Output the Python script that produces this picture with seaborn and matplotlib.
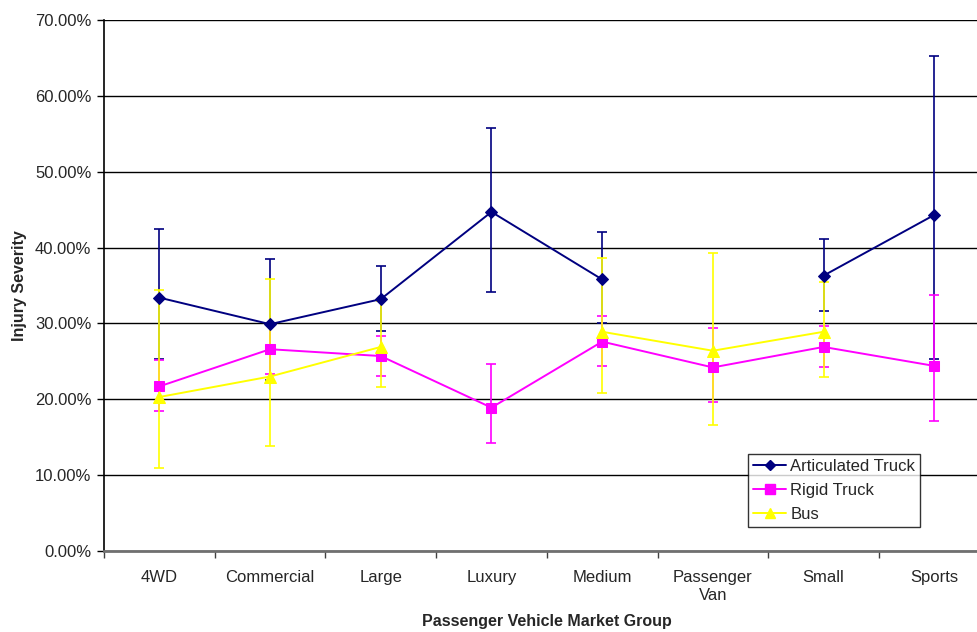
import numpy as np
import pandas as pd
import matplotlib
matplotlib.use("Agg")
import matplotlib.pyplot as plt
from matplotlib.lines import Line2D
from matplotlib.ticker import FuncFormatter, FixedLocator
import seaborn as sns

nan = np.nan

categories = ["4WD", "Commercial", "Large", "Luxury", "Medium",
              "Passenger\nVan", "Small", "Sports"]

# Injury severity (%) with lower / upper limits of each interval
artic = [33.4, 29.9, 33.2, 44.7, 35.8, nan, 36.3, 44.3]
artic_lo = [25.35, 22.5, 29.0, 34.2, 30.1, nan, 31.7, 25.3]
artic_hi = [42.4, 38.5, 37.6, 55.7, 42.0, nan, 41.1, 65.2]

rigid = [21.7, 26.6, 25.7, 18.9, 27.6, 24.2, 26.9, 24.4]
rigid_lo = [18.5, 23.3, 23.1, 14.3, 24.4, 19.6, 24.3, 17.1]
rigid_hi = [25.2, 29.9, 28.4, 24.6, 31.0, 29.4, 29.7, 33.7]

bus = [20.3, 23.0, 26.9, nan, 28.9, 26.4, 28.9, nan]
bus_lo = [11.0, 13.8, 21.6, nan, 20.8, 16.6, 23.0, nan]
bus_hi = [34.4, 35.9, 32.9, nan, 38.6, 39.3, 35.4, nan]

series_names = ["Articulated Truck", "Rigid Truck", "Bus"]
colors = {"Articulated Truck": "#000080", "Rigid Truck": "#FF00FF", "Bus": "#FFFF00"}
markers = {"Articulated Truck": "D", "Rigid Truck": "s", "Bus": "^"}
msizes = {"Articulated Truck": 6, "Rigid Truck": 7.5, "Bus": 8}

sns.set_theme(style="white")
plt.rcParams["font.family"] = ["Liberation Sans", "DejaVu Sans"]

# long-form table; consecutive non-missing points share a segment id so gaps stay open
rows = []
for name, vals, lo, hi in [("Articulated Truck", artic, artic_lo, artic_hi),
                           ("Rigid Truck", rigid, rigid_lo, rigid_hi),
                           ("Bus", bus, bus_lo, bus_hi)]:
    seg = 0
    prev_ok = False
    for i, v in enumerate(vals):
        ok = not np.isnan(v)
        if ok and not prev_ok:
            seg += 1
        if ok:
            rows.append(dict(series=name, x=i, y=v, lo=lo[i], hi=hi[i],
                             seg=f"{name}-{seg}"))
        prev_ok = ok
df = pd.DataFrame(rows)

fig = plt.figure(figsize=(9.78, 6.32), dpi=100)
ax = fig.add_axes([104 / 978, 81 / 632, 885.6 / 978, 531 / 632])

# error bars underneath the lines
for name in series_names:
    d = df[df.series == name]
    ax.errorbar(d.x, d.y, yerr=[d.y - d.lo, d.hi - d.y], fmt="none",
                ecolor=colors[name], elinewidth=1.2, capsize=3.5,
                capthick=1.2, zorder=2)

for name in series_names:
    d = df[df.series == name]
    sns.lineplot(data=d, x="x", y="y", units="seg", estimator=None,
                 color=colors[name], marker=markers[name],
                 markersize=msizes[name], markeredgecolor=colors[name],
                 linewidth=1.4, ax=ax, legend=False, zorder=3)

ax.set_xlim(-0.5, 7.5)
ax.set_ylim(0, 70)
ax.set_yticks(np.arange(0, 71, 10))
ax.yaxis.set_major_formatter(FuncFormatter(lambda v, p: f"{v:.2f}%"))
ax.grid(axis="y", color="black", linewidth=1.0)
ax.grid(axis="x", visible=False)
ax.set_axisbelow(True)

ax.set_xticks(range(len(categories)))
ax.set_xticklabels(categories, fontsize=12)
ax.xaxis.set_minor_locator(FixedLocator(np.arange(-0.5, 8, 1.0)))
ax.tick_params(axis="x", which="major", length=0, pad=14)
ax.tick_params(axis="x", which="minor", length=5, width=1, color="#404040",
               direction="out", bottom=True)
ax.tick_params(axis="y", length=5, width=1, color="black", direction="out",
               left=True, labelsize=12, pad=4)

for s in ["top", "right"]:
    ax.spines[s].set_visible(False)
ax.spines["left"].set_color("black")
ax.spines["left"].set_linewidth(1.2)
ax.spines["bottom"].set_color("#707070")
ax.spines["bottom"].set_linewidth(2)

ax.set_xlabel("Passenger Vehicle Market Group", fontsize=11.5,
              fontweight="bold", labelpad=8)
ax.set_ylabel("Injury Severity", fontsize=11.5, fontweight="bold", labelpad=6)

handles = [Line2D([], [], color=colors[n], marker=markers[n],
                  markersize=msizes[n] - 1, linewidth=1.4) for n in series_names]
leg = fig.legend(handles, series_names, loc="lower left",
                 bbox_to_anchor=(748 / 978, 105 / 632), frameon=True,
                 fancybox=False, fontsize=12, handlelength=2.0,
                 handletextpad=0.25, borderpad=0.3, labelspacing=0.55,
                 borderaxespad=0)
leg.get_frame().set_edgecolor("black")
leg.get_frame().set_linewidth(1.0)

fig.savefig("out.png", dpi=100)
